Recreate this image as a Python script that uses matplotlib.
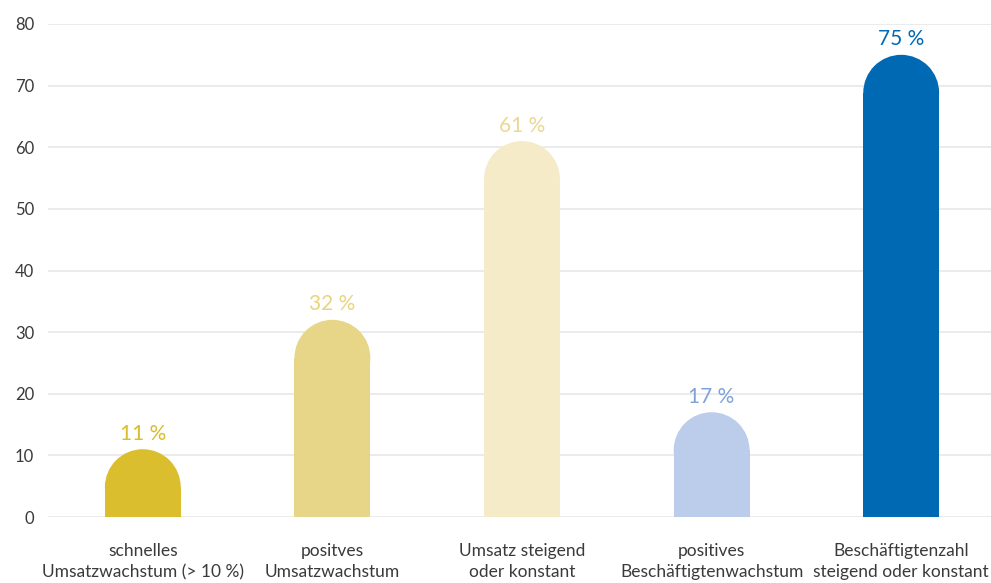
import matplotlib
matplotlib.use("Agg")
import matplotlib.pyplot as plt
from matplotlib.patches import Rectangle, Ellipse

categories = ["schnelles\nUmsatzwachstum (> 10 %)", "positves\nUmsatzwachstum",
              "Umsatz steigend\noder konstant", "positives\nBeschäftigtenwachstum",
              "Beschäftigtenzahl\nsteigend oder konstant"]
values = [11, 32, 61, 17, 75]
value_labels = ["11 %", "32 %", "61 %", "17 %", "75 %"]
bar_colors = ["#DBBE2D", "#E8D688", "#F5EBC8", "#BBCDEB", "#0069B4"]
text_colors = ["#D9BD2D", "#E8D480", "#EBD894", "#7FA3D9", "#0069B4"]
yticks = [0, 10, 20, 30, 40, 50, 60, 70, 80]

plt.rcParams['font.family'] = ['Lato', 'DejaVu Sans']

W, H = 991, 583
fig = plt.figure(figsize=(W / 100, H / 100), dpi=100)
ax = fig.add_axes([48 / W, (H - 517) / H, (996 - 48) / W, (517 - 24) / H])
ax.set_xlim(-0.5, 4.5)
ax.set_ylim(0, 80)

ax_h_px = 517 - 24
ax_w_px = 996 - 48
px_per_y = ax_h_px / 80
px_per_x = ax_w_px / 5
bw = 0.40
r_px = bw * px_per_x / 2
r_y = r_px / px_per_y

for i, (v, c) in enumerate(zip(values, bar_colors)):
    ax.add_patch(Rectangle((i - bw / 2, 0), bw, v - r_y, facecolor=c, edgecolor='none', zorder=2))
    ax.add_patch(Ellipse((i, v - r_y), bw, 2 * r_y, facecolor=c, edgecolor='none', zorder=2))
    ax.text(i, v + 0.9, value_labels[i], ha='center', va='bottom', fontsize=15,
            color=text_colors[i], zorder=3)

ax.set_yticks(yticks)
ax.yaxis.grid(True, color="#E8E8E8", linewidth=1.2, zorder=0)
ax.set_axisbelow(True)
ax.set_xticks(range(len(categories)))
ax.set_xticklabels(categories, fontsize=12.5, color="#3A3A3A", linespacing=1.35)
ax.tick_params(axis='y', length=0, pad=10, labelsize=12, labelcolor="#3A3A3A")
ax.tick_params(axis='x', length=0, pad=19)
for s in ax.spines.values():
    s.set_visible(False)

fig.savefig("out.png", dpi=100)
